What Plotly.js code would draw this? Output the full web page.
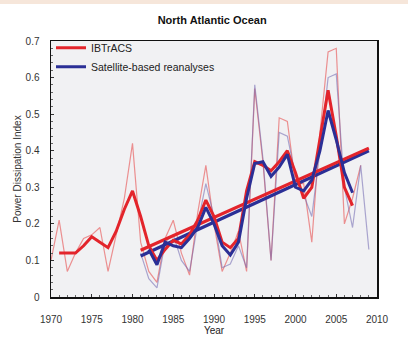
<!DOCTYPE html>
<html>
<head>
<meta charset="utf-8">
<script src="https://cdn.plot.ly/plotly-3.0.1.min.js"></script>
<style>html,body{margin:0;padding:0;background:#fff;}#chart{width:408px;height:343px;}</style>
</head>
<body>
<div id="chart"></div>
<script>
// IBTrACS annual PDI (thin red)
const ibYears = [1970,1971,1972,1973,1974,1975,1976,1977,1978,1979,1980,1981,1982,1983,1984,1985,1986,1987,1988,1989,1990,1991,1992,1993,1994,1995,1996,1997,1998,1999,2000,2001,2002,2003,2004,2005,2006,2007,2008];
const ibAnnual = [0.10,0.21,0.07,0.12,0.16,0.17,0.19,0.07,0.17,0.27,0.42,0.15,0.07,0.04,0.16,0.21,0.12,0.06,0.23,0.36,0.20,0.07,0.12,0.18,0.07,0.57,0.37,0.10,0.49,0.48,0.31,0.31,0.15,0.45,0.67,0.68,0.20,0.27,0.36];
// IBTrACS smoothed (thick red)
const ibSmYears = [1971,1972,1973,1974,1975,1976,1977,1978,1979,1980,1981,1982,1983,1984,1985,1986,1987,1988,1989,1990,1991,1992,1993,1994,1995,1996,1997,1998,1999,2000,2001,2002,2003,2004,2005,2006,2007];
const ibSmooth = [0.12,0.12,0.12,0.14,0.165,0.15,0.135,0.18,0.24,0.29,0.22,0.14,0.10,0.13,0.155,0.145,0.17,0.21,0.265,0.22,0.15,0.135,0.16,0.29,0.37,0.36,0.345,0.37,0.40,0.34,0.27,0.30,0.43,0.565,0.44,0.30,0.25];
// Satellite-based reanalyses annual (thin blue)
const satYears = [1981,1982,1983,1984,1985,1986,1987,1988,1989,1990,1991,1992,1993,1994,1995,1996,1997,1998,1999,2000,2001,2002,2003,2004,2005,2006,2007,2008,2009];
const satAnnual = [0.12,0.05,0.025,0.15,0.17,0.10,0.07,0.20,0.31,0.22,0.08,0.09,0.14,0.08,0.58,0.38,0.10,0.45,0.44,0.33,0.28,0.22,0.40,0.60,0.61,0.30,0.19,0.36,0.13];
// Satellite-based smoothed (thick blue)
const satSmYears = [1982,1983,1984,1985,1986,1987,1988,1989,1990,1991,1992,1993,1994,1995,1996,1997,1998,1999,2000,2001,2002,2003,2004,2005,2006,2007];
const satSmooth = [0.13,0.088,0.15,0.14,0.135,0.16,0.19,0.245,0.20,0.14,0.115,0.15,0.27,0.365,0.37,0.33,0.355,0.39,0.30,0.29,0.32,0.40,0.51,0.43,0.34,0.285];
// Linear trends (start / end)
const trendYears = [1981,2009];
const ibTrend = [0.128,0.407];
const satTrend = [0.112,0.400];

const red = '#e3242b', blue = '#2b2f96';
const traces = [
  {x: ibYears, y: ibAnnual, mode:'lines', line:{color:'rgba(232,90,90,0.65)', width:1.2}, showlegend:false, hoverinfo:'skip'},
  {x: satYears, y: satAnnual, mode:'lines', line:{color:'rgba(110,100,175,0.55)', width:1.2}, showlegend:false, hoverinfo:'skip'},
  {x: trendYears, y: satTrend, mode:'lines', line:{color:blue, width:3.2}, showlegend:false},
  {x: trendYears, y: ibTrend, mode:'lines', line:{color:red, width:3.2}, showlegend:false},
  {x: ibSmYears, y: ibSmooth, mode:'lines', name:'IBTrACS', line:{color:red, width:3}},
  {x: satSmYears, y: satSmooth, mode:'lines', name:'Satellite-based reanalyses', line:{color:blue, width:3}}
];

const layout = {
  width: 408, height: 343,
  margin: {l:51, r:31, t:41, b:46},
  paper_bgcolor: '#ffffff',
  plot_bgcolor: '#f1f1f3',
  font: {family: 'Liberation Sans, Arial, sans-serif', size: 10, color:'#222'},
  title: {text:'<b>North Atlantic Ocean</b>', font:{size:11, color:'#111'}, x:0.52, xanchor:'center', y:0.94, yanchor:'middle'},
  showlegend: true,
  legend: {x:0.0, y:1.03, xanchor:'left', yanchor:'top', bgcolor:'rgba(0,0,0,0)', font:{size:10.5, color:'#222'}, tracegroupgap:0, itemwidth:30},
  xaxis: {
    range:[1970,2010], tickvals:[1970,1975,1980,1985,1990,1995,2000,2005,2010],
    ticks:'inside', ticklen:3, tickcolor:'#333', showgrid:false, zeroline:false,
    showline:true, linecolor:'#111', linewidth:1.5, mirror:true,
    minor:{dtick:1, ticks:'inside', ticklen:2, tickcolor:'#666'},
    tickfont:{size:10, color:'#333'}, ticklabelstandoff:12,
    title:{text:'Year', font:{size:10, color:'#222'}, standoff:0}
  },
  yaxis: {
    range:[0,0.7], tickvals:[0,0.1,0.2,0.3,0.4,0.5,0.6,0.7], ticktext:['0','0.1','0.2','0.3','0.4','0.5','0.6','0.7'],
    ticks:'inside', ticklen:3, tickcolor:'#333', showgrid:false, zeroline:false,
    showline:true, linecolor:'#111', linewidth:1.5, mirror:true,
    minor:{dtick:0.02, ticks:'inside', ticklen:2, tickcolor:'#666'},
    tickfont:{size:10, color:'#333'}, ticklabelstandoff:8,
    title:{text:'Power Dissipation Index', font:{size:10, color:'#333'}, standoff:2}
  },
  shapes: [
    {type:'rect', xref:'paper', yref:'paper', x0:-0.2, x1:1.2, y0:1.145, y1:1.3, fillcolor:'#f6e6da', line:{width:0}, layer:'below'}
  ]
};

Plotly.newPlot('chart', traces, layout, {displayModeBar:false, staticPlot:true});
</script>
</body>
</html>
